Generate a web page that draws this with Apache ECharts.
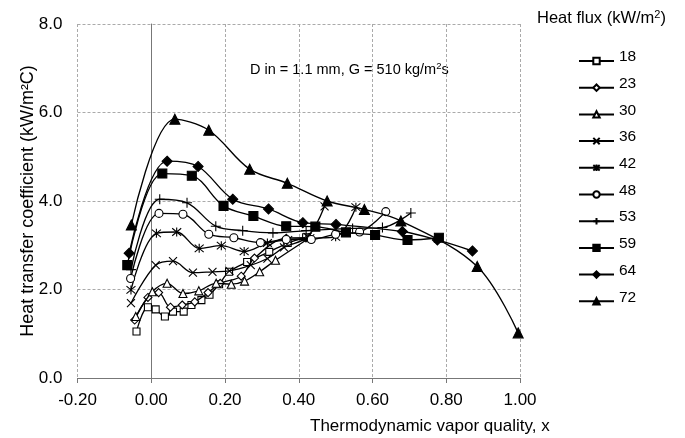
<!DOCTYPE html>
<html>
<head>
<meta charset="utf-8">
<script src="https://cdn.jsdelivr.net/npm/echarts@6/dist/echarts.min.js"></script>
<style>
  html, body { margin: 0; padding: 0; background: #fff; }
  #chart { width: 685px; height: 438px; }
</style>
</head>
<body>
<div id="chart"></div>
<script>
// Heat flux levels (kW/m2), one curve each
const fluxLabels = ['18', '23', '30', '36', '42', '48', '53', '59', '64', '72'];

// [vapor quality x, heat transfer coefficient kW/m2C]
const q18 = [[-0.040,1.05],[-0.009,1.60],[0.012,1.55],[0.037,1.39],[0.059,1.50],[0.088,1.50],[0.109,1.65],[0.136,1.76],[0.158,1.88],[0.184,2.12],[0.211,2.40],[0.26,2.62],[0.32,2.85],[0.37,3.05],[0.42,3.18]];
const q23 = [[-0.045,1.31],[-0.009,1.82],[0.020,1.93],[0.052,1.60],[0.084,1.65],[0.118,1.72],[0.154,1.93],[0.187,2.14],[0.244,2.30],[0.280,2.71],[0.366,3.16],[0.427,3.17]];
const q30 = [[-0.042,1.39],[0.003,1.95],[0.043,2.14],[0.086,1.91],[0.129,1.97],[0.176,2.14],[0.217,2.12],[0.253,2.19],[0.294,2.40],[0.337,2.66],[0.43,3.17]];
const q36 = [[-0.055,1.69],[0.012,2.55],[0.059,2.64],[0.113,2.38],[0.166,2.40],[0.212,2.42],[0.27,2.55],[0.315,2.70],[0.36,2.95],[0.424,3.19],[0.470,3.88]];
const q42 = [[-0.055,1.99],[0.014,3.27],[0.069,3.30],[0.130,2.93],[0.190,2.99],[0.252,2.86],[0.315,3.05],[0.370,3.12],[0.430,3.16],[0.500,3.19],[0.555,3.86]];
const q48 = [[-0.056,2.25],[0.021,3.72],[0.086,3.70],[0.156,3.25],[0.224,3.17],[0.296,3.06],[0.366,3.13],[0.434,3.13],[0.500,3.25],[0.565,3.30],[0.636,3.76]];
const q53 = [[-0.055,2.45],[0.023,4.04],[0.097,3.96],[0.175,3.43],[0.248,3.33],[0.330,3.28],[0.420,3.33],[0.546,3.38],[0.627,3.40],[0.704,3.73]];
const q59 = [[-0.065,2.55],[0.030,4.62],[0.110,4.57],[0.196,3.89],[0.277,3.66],[0.366,3.43],[0.445,3.42],[0.528,3.29],[0.607,3.23],[0.695,3.12],[0.780,3.17]];
const q64 = [[-0.060,2.82],[0.043,4.90],[0.127,4.78],[0.221,4.04],[0.318,3.82],[0.411,3.51],[0.501,3.47],[0.681,3.31],[0.776,3.12],[0.871,2.87]];
const q72 = [[-0.054,3.46],[0.064,5.85],[0.156,5.60],[0.267,4.72],[0.369,4.40],[0.477,4.00],[0.578,3.81],[0.677,3.55],[0.884,2.52],[0.995,1.02]];

const curves = [q18, q23, q30, q36, q42, q48, q53, q59, q64, q72];

// Axis ticks
const xTicks = [-0.2, 0, 0.2, 0.4, 0.6, 0.8, 1.0];
const yTicks = [0, 2, 4, 6, 8];

const FONT = '"Liberation Sans", Arial, sans-serif';

// Marker shapes: open square, open diamond, open triangle, cross, asterisk,
// open circle, plus, filled square, filled diamond, filled triangle
const CROSS = 'path://M0,0L10,10M10,0L0,10';
const STAR = 'path://M0,0L10,10M10,0L0,10M5,-1L5,11';
const PLUS = 'path://M5,0L5,10M0,5L10,5';
const markers = [
  { symbol: 'rect',     size: 7, fill: '#fff' },
  { symbol: 'diamond',  size: 8, fill: '#fff' },
  { symbol: 'triangle', size: 8, fill: '#fff' },
  { symbol: CROSS,      size: 8, fill: 'none' },
  { symbol: STAR,       size: 9, fill: 'none' },
  { symbol: 'circle',   size: 8, fill: '#fff' },
  { symbol: PLUS,       size: 10, fill: 'none' },
  { symbol: 'rect',     size: 9, fill: '#000' },
  { symbol: 'diamond',  size: 10, fill: '#000' },
  { symbol: 'triangle', size: 10, fill: '#000' }
];

const series = curves.map((pts, i) => ({
  name: fluxLabels[i],
  type: 'line',
  data: pts,
  smooth: 0.35,
  symbol: markers[i].symbol,
  symbolSize: markers[i].size,
  showAllSymbol: true,
  lineStyle: { color: '#000', width: 1.35 },
  itemStyle: { color: markers[i].fill, borderColor: '#000', borderWidth: 1.1 },
  emphasis: { disabled: true },
  z: 2 + i
}));

const chart = echarts.init(document.getElementById('chart'), null, { renderer: 'canvas' });

chart.setOption({
  animation: false,
  backgroundColor: '#fff',
  textStyle: { fontFamily: FONT, color: '#000' },
  grid: { left: 77.5, right: 165, top: 24, bottom: 60 },
  xAxis: {
    type: 'value',
    min: xTicks[0],
    max: xTicks[xTicks.length - 1],
    interval: 0.2,
    axisLine: { lineStyle: { color: '#777', width: 1 } },
    axisTick: { show: true, length: 5, inside: false, lineStyle: { color: '#777' } },
    axisLabel: {
      margin: 14, fontSize: 17, color: '#000', fontFamily: FONT,
      formatter: v => v.toFixed(2)
    },
    splitLine: { show: true, lineStyle: { color: '#aaa', type: [3, 2], width: 1 } }
  },
  yAxis: {
    type: 'value',
    min: yTicks[0],
    max: yTicks[yTicks.length - 1],
    interval: 2,
    axisLine: { show: true, lineStyle: { color: '#777', width: 1 } },
    axisTick: { show: false },
    axisLabel: {
      margin: 15, fontSize: 17, color: '#000', fontFamily: FONT,
      formatter: v => v.toFixed(1)
    },
    splitLine: { show: true, lineStyle: { color: '#aaa', type: [3, 2], width: 1 } },
    name: 'Heat transfer coefficient (kW/m²C)',
    nameLocation: 'middle',
    nameGap: 40,
    nameMoveOverlap: false,
    nameTextStyle: { fontSize: 18, color: '#000', fontFamily: FONT }
  },
  legend: {
    orient: 'vertical',
    left: 573,
    top: 44,
    itemWidth: 35,
    itemHeight: 8,
    itemGap: 2.7,
    formatter: '{t|{name}}',
    textStyle: {
      fontSize: 15.5, color: '#000', fontFamily: FONT,
      rich: { t: { fontSize: 15.5, fontFamily: FONT, lineHeight: 16, padding: [0, 0, 8, 0] } }
    },
    data: fluxLabels,
    selectedMode: false
  },
  graphic: [
    {
      type: 'text',
      left: 537, top: 9,
      style: {
        text: '{a|Heat flux (kW/m}{s|2}{a|)}',
        rich: {
          a: { fontSize: 16.5, fontFamily: FONT, fill: '#000' },
          s: { fontSize: 11, fontFamily: FONT, fill: '#000', padding: [0, 0, 8, 0] }
        }
      }
    },
    {
      type: 'text',
      left: 250, top: 61,
      style: {
        text: '{a|D in = 1.1 mm, G = 510 kg/m}{s|2}{a|s}',
        rich: {
          a: { fontSize: 14.5, fontFamily: FONT, fill: '#000' },
          s: { fontSize: 9.5, fontFamily: FONT, fill: '#000', padding: [0, 0, 7, 0] }
        }
      }
    },
    {
      type: 'text',
      left: 310, top: 418,
      style: { text: 'Thermodynamic vapor quality, x', fontSize: 17, fontFamily: FONT, fill: '#000' }
    }
  ],
  series: series
});
</script>
</body>
</html>
